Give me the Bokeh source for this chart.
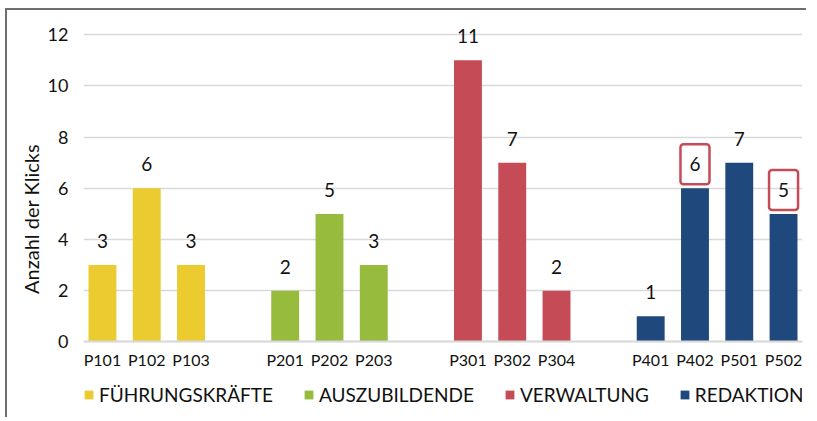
from bokeh.plotting import figure
from bokeh.models import FactorRange, Range1d, Legend, LegendItem, ColumnDataSource, FixedTicker
from bokeh.core.properties import value
from bokeh.embed import file_html
from bokeh.resources import INLINE

# ---- data ----
groups = ["FÜHRUNGSKRÄFTE", "AUSZUBILDENDE", "VERWALTUNG", "REDAKTION"]
colors = ["#EBCB2F", "#97BB3D", "#C54B57", "#1F497D"]
pages = [["P101", "P102", "P103"],
         ["P201", "P202", "P203"],
         ["P301", "P302", "P304"],
         ["P401", "P402", "P501", "P502"]]
clicks = [[3, 6, 3],
          [2, 5, 3],
          [11, 7, 2],
          [1, 6, 7, 5]]
highlighted = ["P402", "P502"]
y_ticks = [0, 2, 4, 6, 8, 10, 12]
y_title = "Anzahl der Klicks"

FONT = "Lato"
TXT = "#111111"
RED = "#C54B57"

factors = [(g, pg) for g, ps in zip(groups, pages) for pg in ps]

p = figure(
    x_range=FactorRange(*factors, group_padding=1.127, range_padding=-0.072,
                        range_padding_units="absolute"),
    y_range=Range1d(-2.8, 12.4),
    frame_width=719, frame_height=389,
    min_border_left=76, min_border_right=4, min_border_top=14, min_border_bottom=4,
    output_backend="svg", toolbar_location=None,
    styles={"border-left": "2px solid #6e6e6e", "border-top": "2px solid #6e6e6e",
            "margin-left": "5px", "margin-top": "8px"},
)

items = []
norm_x, norm_y, norm_t = [], [], []
hi_x, hi_y, hi_t = [], [], []
for g, ps, vals, col in zip(groups, pages, clicks, colors):
    xs = [(g, pg) for pg in ps]
    src = ColumnDataSource(dict(x=xs, top=vals))
    r = p.vbar(x="x", top="top", width=0.63, source=src, fill_color=col, line_color=None)
    items.append(LegendItem(label=g, renderers=[r]))
    for xx, pg, v in zip(xs, ps, vals):
        if pg in highlighted:
            hi_x.append(xx); hi_y.append(v); hi_t.append(str(v))
        else:
            norm_x.append(xx); norm_y.append(v); norm_t.append(str(v))

p.text(x="x", y="y", text="t", source=ColumnDataSource(dict(x=norm_x, y=norm_y, t=norm_t)),
       text_align="center", text_baseline="middle", y_offset=-24,
       text_font=value(FONT), text_font_size="19px", text_color=TXT)
p.text(x="x", y="y", text="t", source=ColumnDataSource(dict(x=hi_x, y=hi_y, t=hi_t)),
       text_align="center", text_baseline="middle", y_offset=-24,
       text_font=value(FONT), text_font_size="19px", text_color=TXT,
       border_line_color=RED, border_line_width=2.5, padding=dict(x=9, y=13),
       border_radius=3)

# grid / axes
p.xgrid.grid_line_color = None
p.ygrid.grid_line_color = "#d9d9d9"
p.ygrid.grid_line_width = 1.5
p.outline_line_color = None

p.yaxis.ticker = FixedTicker(ticks=y_ticks)
p.ygrid.ticker = FixedTicker(ticks=y_ticks)
p.yaxis.axis_line_color = None
p.yaxis.major_tick_line_color = None
p.yaxis.minor_tick_line_color = None
p.yaxis.major_tick_out = 0
p.yaxis.major_tick_in = 0
p.yaxis.major_label_standoff = 15
p.yaxis.major_label_text_font = FONT
p.yaxis.major_label_text_font_size = "18px"
p.yaxis.major_label_text_color = TXT
p.yaxis.axis_label = y_title
p.yaxis.axis_label_text_font = FONT
p.yaxis.axis_label_text_font_size = "20px"
p.yaxis.axis_label_text_font_style = "normal"
p.yaxis.axis_label_text_color = TXT
p.yaxis.axis_label_standoff = 2

p.xaxis.fixed_location = 0
p.xaxis.axis_line_color = "#d9d9d9"
p.xaxis.axis_line_width = 2
p.xaxis.major_tick_line_color = None
p.xaxis.minor_tick_line_color = None
p.xaxis.major_tick_out = 0
p.xaxis.major_tick_in = 0
p.xaxis.major_label_standoff = 8
p.xaxis.major_label_text_font = FONT
p.xaxis.major_label_text_font_size = "16px"
p.xaxis.major_label_text_color = TXT
p.xaxis.group_text_color = None
p.xaxis.group_text_font_size = "1px"
p.xaxis.group_label_orientation = "horizontal"
p.xaxis.separator_line_color = None

legend = Legend(items=items, orientation="horizontal", location=(0, 7),
                glyph_width=11, glyph_height=11, label_standoff=5, spacing=30,
                padding=0, margin=0, label_text_font=FONT, label_text_font_size="19px",
                label_text_color=TXT, label_height=20,
                border_line_color=None, background_fill_alpha=0)
p.add_layout(legend)

open("out.html", "w").write(file_html(p, INLINE))
